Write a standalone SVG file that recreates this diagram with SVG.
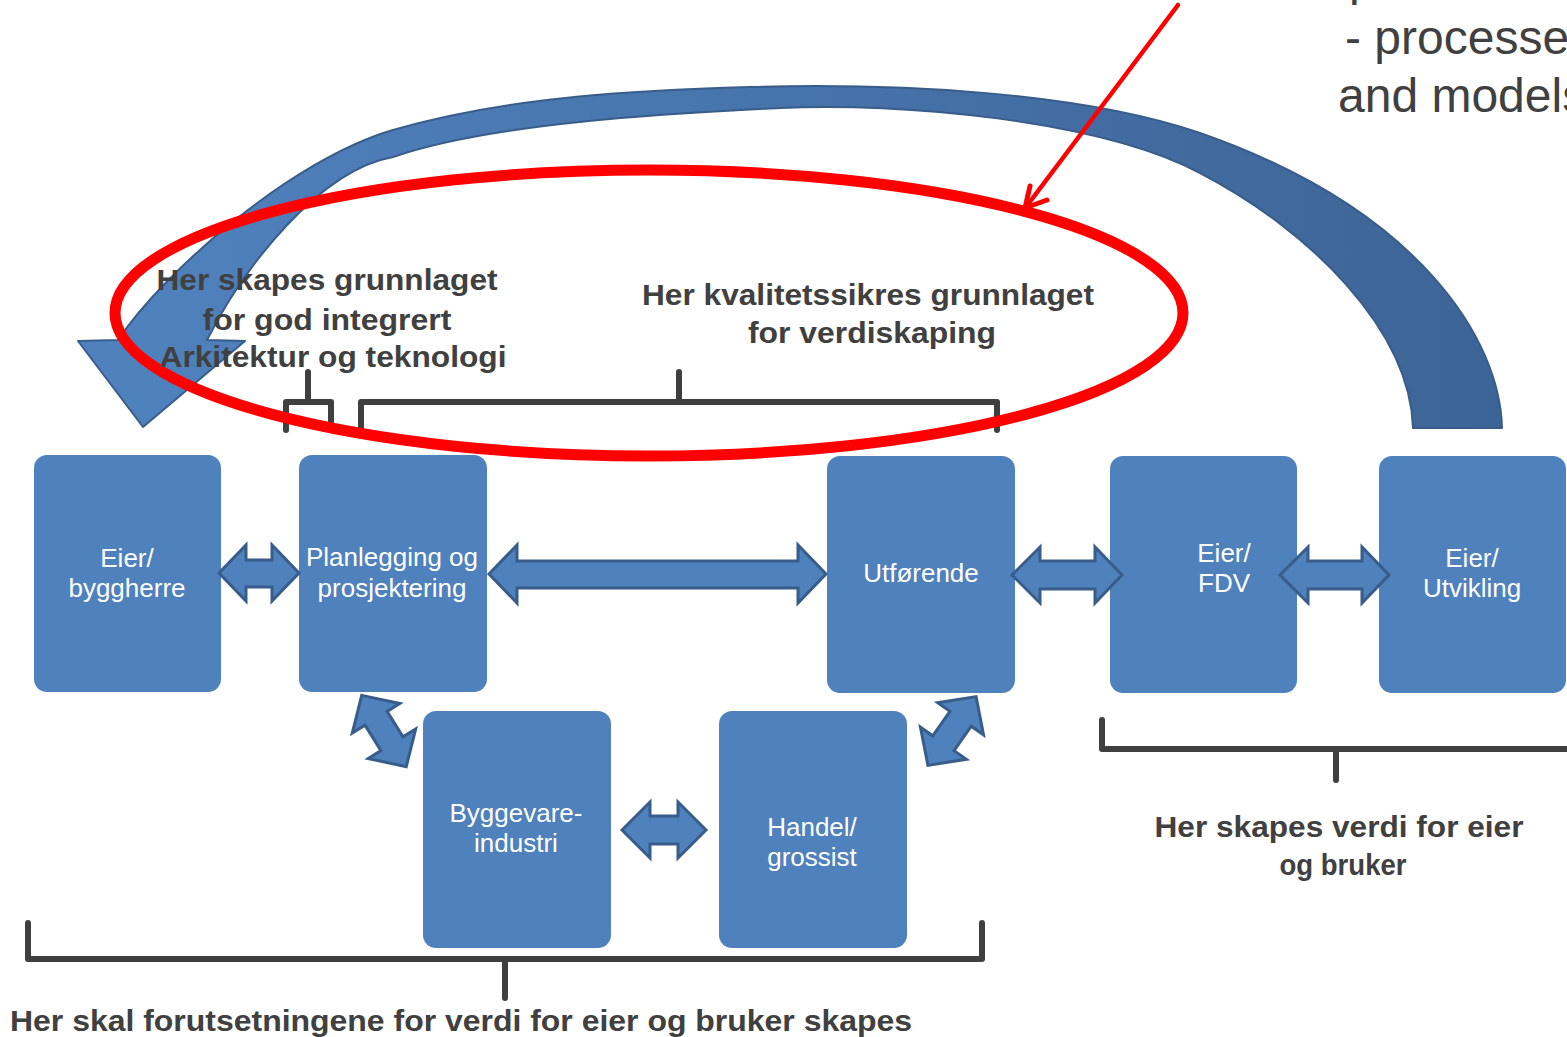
<svg xmlns="http://www.w3.org/2000/svg" width="1567" height="1037" viewBox="0 0 1567 1037">
  <defs>
    <linearGradient id="arcFill" gradientUnits="userSpaceOnUse" x1="150" y1="0" x2="1500" y2="0">
      <stop offset="0" stop-color="#4F81BD"/>
      <stop offset="1" stop-color="#3D6496"/>
    </linearGradient>
    <path id="dbl84" d="M-42,0 L-15,-28 L-15,-13 L15,-13 L15,-28 L42,0 L15,28 L15,13 L-15,13 L-15,28 Z"/>
  </defs>
  <style>
    .box { fill: #4F81BD; }
    .boxtxt { font-family: "Liberation Sans", Arial, sans-serif; font-size: 26px; fill: #FFFFFF; text-anchor: middle; }
    .dbl { fill: #4F81BD; stroke: #385D8A; stroke-width: 3; stroke-linejoin: miter; }
    .brace { fill: none; stroke: #3F3F3F; stroke-width: 6; stroke-linecap: round; stroke-linejoin: round; }
    .lbl { font-family: "Liberation Sans", Arial, sans-serif; font-weight: bold; font-size: 30px; fill: #404040; text-anchor: middle; }
    .note { font-family: "Liberation Sans", Arial, sans-serif; font-size: 48px; fill: #404040; }
  </style>

  <rect width="1567" height="1037" fill="#FFFFFF"/>

  <!-- large feedback arc sweeping from the right back to the owner -->
  <g id="feedback-arc">
    <path fill="url(#arcFill)" stroke="#385D8A" stroke-width="2" stroke-linejoin="round"
      d="M1502,428 C1500,340 1420,210 1200,133 C1080,92 900,83 750,87 C650,90 513,95 393,130 C293,159 165,270 118,340 L78,341 L143,427 L245,341 L207,340 C245,265 320,170 393,157 C493,122 680,113 780,108 C900,102 1100,120 1200,173 C1310,230 1410,330 1413,428 Z"/>
  </g>

  <!-- brackets -->
  <g id="brackets">
    <path class="brace" d="M286,430 V402 H331 V430 M308,372 V402"/>
    <path class="brace" d="M361,428 V402 H997 V430 M679,372 V402"/>
    <path class="brace" d="M1102,720 V749 H1575 M1336,749 V780"/>
    <path class="brace" d="M28,923 V959 H982 V923 M505,959 V998"/>
  </g>

  <!-- red highlight ring and pointer -->
  <g id="highlight">
    <ellipse cx="649" cy="313" rx="534" ry="143" fill="none" stroke="#FF0000" stroke-width="11"/>
    <line x1="1178" y1="5" x2="1026" y2="207" stroke="#FF0000" stroke-width="4.5" stroke-linecap="round"/>
    <polyline points="1030,186 1025,208 1047,200" fill="none" stroke="#FF0000" stroke-width="5" stroke-linecap="round" stroke-linejoin="round"/>
  </g>

  <!-- nodes -->
  <g id="node-eier-byggherre">
    <rect class="box" x="34" y="455" width="187" height="237" rx="13"/>
    <text class="boxtxt" x="127" y="567">Eier/</text>
    <text class="boxtxt" x="127" y="597">byggherre</text>
  </g>
  <g id="node-planlegging">
    <rect class="box" x="299" y="455" width="188" height="237" rx="13"/>
    <text class="boxtxt" x="392" y="566">Planlegging og</text>
    <text class="boxtxt" x="392" y="597">prosjektering</text>
  </g>
  <g id="node-utforende">
    <rect class="box" x="827" y="456" width="188" height="237" rx="13"/>
    <text class="boxtxt" x="921" y="582">Utførende</text>
  </g>
  <g id="node-eier-fdv">
    <rect class="box" x="1110" y="456" width="187" height="237" rx="13"/>
    <text class="boxtxt" x="1224" y="562">Eier/</text>
    <text class="boxtxt" x="1224" y="592">FDV</text>
  </g>
  <g id="node-eier-utvikling">
    <rect class="box" x="1379" y="456" width="187" height="237" rx="13"/>
    <text class="boxtxt" x="1472" y="567">Eier/</text>
    <text class="boxtxt" x="1472" y="597">Utvikling</text>
  </g>
  <g id="node-byggevare">
    <rect class="box" x="423" y="711" width="188" height="237" rx="13"/>
    <text class="boxtxt" x="516" y="822">Byggevare-</text>
    <text class="boxtxt" x="516" y="852">industri</text>
  </g>
  <g id="node-handel">
    <rect class="box" x="719" y="711" width="188" height="237" rx="13"/>
    <text class="boxtxt" x="812" y="836">Handel/</text>
    <text class="boxtxt" x="812" y="866">grossist</text>
  </g>

  <!-- connectors: two-way block arrows -->
  <g id="connectors">
    <path class="dbl" d="M219,573 L246,545 L246,560 L272,560 L272,545 L299,573 L272,601 L272,587 L246,587 L246,601 Z"/>
    <path class="dbl" d="M489,574 L517,545 L517,561 L798,561 L798,545 L826,574 L798,603 L798,588 L517,588 L517,603 Z"/>
    <path class="dbl" d="M1012,575 L1040,547 L1040,561 L1095,561 L1095,547 L1122,575 L1095,603 L1095,589 L1040,589 L1040,603 Z"/>
    <path class="dbl" d="M1280,575 L1308,547 L1308,561 L1362,561 L1362,547 L1389,575 L1362,603 L1362,589 L1308,589 L1308,603 Z"/>
    <path class="dbl" d="M622,830 L650,802 L650,816 L678,816 L678,802 L706,830 L678,858 L678,844 L650,844 L650,858 Z"/>
    <use href="#dbl84" class="dbl" transform="translate(384,731) rotate(58)"/>
    <use href="#dbl84" class="dbl" transform="translate(952,731) rotate(-55)"/>
  </g>

  <!-- bracket captions -->
  <g id="captions">
    <text class="lbl" x="327" y="290" textLength="341" lengthAdjust="spacingAndGlyphs">Her skapes grunnlaget</text>
    <text class="lbl" x="327" y="330" textLength="249" lengthAdjust="spacingAndGlyphs">for god integrert</text>
    <text class="lbl" x="333" y="367" textLength="347" lengthAdjust="spacingAndGlyphs">Arkitektur og teknologi</text>
    <text class="lbl" x="868" y="305" textLength="452" lengthAdjust="spacingAndGlyphs">Her kvalitetssikres grunnlaget</text>
    <text class="lbl" x="872" y="343" textLength="248" lengthAdjust="spacingAndGlyphs">for verdiskaping</text>
    <text class="lbl" x="1339" y="837" textLength="369" lengthAdjust="spacingAndGlyphs">Her skapes verdi for eier</text>
    <text class="lbl" x="1343" y="875" textLength="127" lengthAdjust="spacingAndGlyphs">og bruker</text>
    <text class="lbl" x="461" y="1031" textLength="902" lengthAdjust="spacingAndGlyphs">Her skal forutsetningene for verdi for eier og bruker skapes</text>
  </g>

  <!-- note text running off the top-right edge -->
  <g id="note">
    <text class="note" x="1349" y="-5">p</text>
    <text class="note" x="1345" y="54">- processes</text>
    <text class="note" x="1338" y="112">and models</text>
  </g>
</svg>
